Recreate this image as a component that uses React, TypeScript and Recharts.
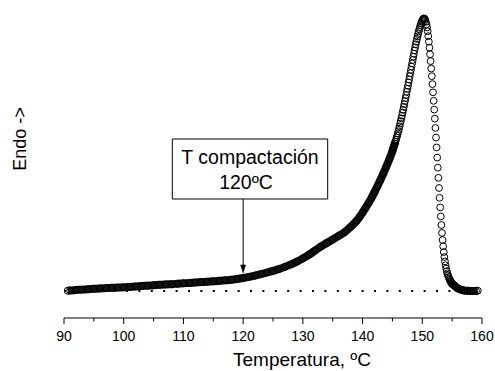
import React from 'react';
import { ComposedChart, Line, XAxis, YAxis, ReferenceLine, ReferenceArea, ReferenceDot } from 'recharts';

// Temperature samples (ºC) and heat-flow signal (arbitrary units, endo up)
const baseTemps = [90.6, 91, 92, 93, 94, 95, 96, 97, 98, 99, 100, 101, 102, 103, 104, 105, 106, 107, 108, 109, 110,
  111, 112, 113, 114, 115, 116, 117, 118, 119, 120, 121, 122, 123, 124, 125, 126, 127, 128, 129, 130,
  131, 132, 133, 134, 135, 136, 137, 138, 139, 139.5, 140, 140.5, 141, 141.5, 142, 142.5, 143, 143.5, 144, 144.5, 145];
const baseValues = [0.1, 0.2, 0.35, 0.5, 0.65, 0.8, 0.95, 1.05, 1.15, 1.25, 1.35, 1.5, 1.65, 1.8, 1.95, 2.1, 2.25, 2.4, 2.5, 2.65, 2.8,
  2.95, 3.1, 3.25, 3.4, 3.55, 3.7, 3.9, 4.1, 4.4, 4.75, 5.15, 5.65, 6.2, 6.75, 7.35, 8.0, 8.8, 9.7, 10.7, 11.9,
  13.2, 14.7, 16.2, 17.5, 18.8, 20.1, 21.5, 23.4, 25.6, 27.0, 28.6, 30.3, 32.1, 34.0, 36.1, 38.3, 40.6, 43.0, 45.5, 48.2, 51.1];

const peakTemps = [145.1, 145.2, 145.3, 145.4, 145.5, 145.6, 145.7, 145.8, 145.9, 146.0,
  146.1, 146.2, 146.3, 146.4, 146.5, 146.6, 146.7, 146.8, 146.9, 147.0,
  147.1, 147.2, 147.3, 147.4, 147.5, 147.6, 147.7, 147.8, 147.9, 148.0,
  148.1, 148.2, 148.3, 148.4, 148.5, 148.6, 148.7, 148.8, 148.9, 149.0,
  149.1, 149.2, 149.3, 149.4, 149.5, 149.6, 149.7, 149.8, 149.9, 150.0,
  150.1, 150.2, 150.3, 150.4, 150.5, 150.6, 150.7, 150.8, 150.9, 151.0,
  151.1, 151.2, 151.3, 151.4, 151.5, 151.6, 151.7, 151.8, 151.9, 152.0,
  152.1, 152.2, 152.3, 152.4, 152.5, 152.6, 152.7, 152.8, 152.9, 153.0,
  153.1, 153.2, 153.3, 153.4, 153.5, 153.6, 153.7, 153.8, 153.9, 154.0,
  154.1, 154.2, 154.3, 154.4, 154.5, 154.6, 154.7, 154.8, 154.9, 155.0];
const peakValues = [51.8, 52.5, 53.1, 53.8, 54.5, 55.2, 56.0, 56.7, 57.5, 58.3,
  59.2, 60.1, 61.1, 62.0, 63.0, 64.0, 65.1, 66.1, 67.2, 68.2,
  69.3, 70.4, 71.5, 72.7, 73.8, 74.9, 76.1, 77.2, 78.4, 79.5,
  80.7, 81.9, 83.1, 84.3, 85.5, 86.6, 87.8, 88.9, 90.0, 91.0,
  92.0, 92.9, 93.8, 94.7, 95.5, 96.3, 97.0, 97.6, 98.2, 98.7,
  99.1, 99.4, 99.5, 99.3, 98.9, 98.2, 97.3, 96.2, 94.8, 93.0,
  91.0, 88.8, 86.4, 83.9, 81.2, 78.4, 75.5, 72.5, 69.4, 66.2,
  62.9, 59.5, 56.0, 52.4, 48.7, 45.0, 41.3, 37.6, 34.0, 30.5,
  27.2, 24.1, 21.2, 18.6, 16.3, 14.2, 12.4, 10.8, 9.4, 8.2,
  7.2, 6.4, 5.7, 5.1, 4.6, 4.1, 3.7, 3.3, 3.0, 2.7];

const tailTemps = [155.2, 155.4, 155.6, 155.8, 156.0, 156.3, 156.6, 157.0, 157.5, 158.0, 158.5, 159.0, 159.3];
const tailValues = [2.3, 1.9, 1.5, 1.2, 0.9, 0.6, 0.4, 0.2, 0.1, 0.0, 0.0, 0.05, 0.1];

const xTicks = [90, 95, 100, 105, 110, 115, 120, 125, 130, 135, 140, 145, 150, 155, 160];
const annotationLines = ['T compactación', '120ºC'];
const annotationTemp = 120;

const allTemps = [...baseTemps, ...peakTemps, ...tailTemps];
const allValues = [...baseValues, ...peakValues, ...tailValues];
const points = allTemps.map((t, i) => ({
  t,
  v: allValues[i],
  bandL: t <= 145.5 ? allValues[i] : null,
  bandR: t >= 154.6 ? allValues[i] : null,
}));

const FONT = '"Liberation Sans", Arial, Helvetica, sans-serif';

const XTick = (props: any) => {
  const { x, y, payload } = props;
  const major = payload.value % 10 === 0;
  return (
    <g>
      <line x1={x} x2={x} y1={y} y2={y + (major ? 6 : 3.5)} stroke="#000" strokeWidth={1} />
      {major && (
        <text x={x} y={y + 22.5} textAnchor="middle" fontSize={14} fontFamily={FONT} fill="#000">
          {payload.value}
        </text>
      )}
    </g>
  );
};

const XTitle = (props: any) => {
  const vb = props.viewBox || { x: 64, y: 318, width: 418 };
  return (
    <text x={vb.x + 238} y={vb.y + 48} textAnchor="middle" fontSize={19} fontFamily={FONT} fill="#000">
      Temperatura, ºC
    </text>
  );
};

const YTitle = (props: any) => {
  const vb = props.viewBox || { x: 0, y: 10 };
  const x = vb.x + 26;
  const y = vb.y + 129;
  return (
    <text x={x} y={y} transform={`rotate(-90 ${x} ${y})`} textAnchor="middle" fontSize={18} fontFamily={FONT} fill="#000">
      Endo -&gt;
    </text>
  );
};

const BoxLabel = (props: any) => {
  const vb = props.viewBox;
  if (!vb) return null;
  const cx = vb.x + vb.width / 2;
  return (
    <g>
      <text x={cx} y={vb.y + 24.5} textAnchor="middle" fontSize={19.5} fontFamily={FONT} fill="#000">
        {annotationLines[0]}
      </text>
      <text x={cx - 4} y={vb.y + 49.5} textAnchor="middle" fontSize={19.5} fontFamily={FONT} fill="#000">
        {annotationLines[1]}
      </text>
    </g>
  );
};

const ArrowHead = (props: any) => {
  const { cx, cy } = props;
  return <path d={`M ${cx - 2.5} ${cy - 8} L ${cx} ${cy} L ${cx + 2.5} ${cy - 8} Z`} fill="#000" stroke="#000" strokeWidth={0.5} />;
};

export default function App() {
  return (
    <div style={{ position: 'absolute', left: 0, top: 0, width: 495, height: 371, background: '#fff' }}>
      <ComposedChart width={495} height={371} margin={{ top: 10, right: 13, bottom: 0, left: 0 }} data={points}>
        <XAxis
          dataKey="t"
          type="number"
          domain={[90, 160]}
          ticks={xTicks}
          interval={0}
          allowDataOverflow
          height={53}
          axisLine={{ stroke: '#000', strokeWidth: 1 }}
          tickLine={false}
          tickSize={0}
          tickMargin={0}
          tick={<XTick />}
          label={{ content: <XTitle /> }}
        />
        <YAxis
          type="number"
          domain={[-9.854, 102.55]}
          allowDataOverflow
          width={64}
          axisLine={false}
          tickLine={false}
          tick={false}
          label={{ content: <YTitle /> }}
        />
        <ReferenceLine y={0} stroke="#000" strokeWidth={2} strokeDasharray="2 10.4" />
        <Line dataKey="bandL" type="monotone" stroke="#111" strokeWidth={8} dot={false} activeDot={false} connectNulls={false} isAnimationActive={false} />
        <Line dataKey="bandR" type="monotone" stroke="#111" strokeWidth={8} dot={false} activeDot={false} connectNulls={false} isAnimationActive={false} />
        <Line
          dataKey="v"
          stroke="none"
          dot={{ r: 3.4, stroke: '#000', strokeWidth: 1, fill: 'none' }}
          activeDot={false}
          isAnimationActive={false}
        />
        <ReferenceArea
          x1={108.14}
          x2={134.16}
          y1={33.58}
          y2={55.47}
          fill="#fff"
          fillOpacity={1}
          stroke="#000"
          strokeWidth={1}
          label={{ content: <BoxLabel /> }}
        />
        <ReferenceLine segment={[{ x: annotationTemp, y: 33.58 }, { x: annotationTemp, y: 8.5 }]} stroke="#000" strokeWidth={1} />
        <ReferenceDot x={annotationTemp} y={6.6} r={0} shape={<ArrowHead />} />
      </ComposedChart>
    </div>
  );
}
